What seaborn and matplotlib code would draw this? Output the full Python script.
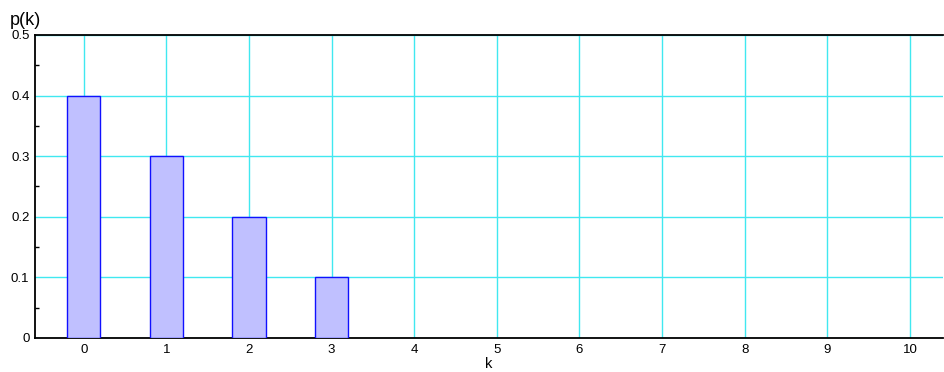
import numpy as np
import pandas as pd
import matplotlib
matplotlib.use("Agg")
import matplotlib.pyplot as plt
import seaborn as sns

# distribution values
k_vals = [0, 1, 2, 3]
p_vals = [0.4, 0.3, 0.2, 0.1]
x_ticks = list(range(0, 11))
y_ticks = [0, 0.1, 0.2, 0.3, 0.4, 0.5]
y_labels = ["0", "0.1", "0.2", "0.3", "0.4", "0.5"]

sns.set_style("white")
plt.rcParams['font.family'] = ['Liberation Sans', 'DejaVu Sans']
plt.rcParams['text.color'] = 'black'
plt.rcParams['xtick.color'] = 'black'
plt.rcParams['ytick.color'] = 'black'
plt.rcParams['axes.labelcolor'] = 'black'

df = pd.DataFrame({'k': k_vals, 'p': p_vals})

fig = plt.figure(figsize=(9.44, 3.72), dpi=100)
ax = fig.add_axes([35 / 944, 1 - 338 / 372, (943 - 35) / 944, (338 - 35) / 372])

sns.barplot(data=df, x='k', y='p', native_scale=True, width=0.4,
            color='#c0c0ff', saturation=1, edgecolor='#1010ff', linewidth=1,
            ax=ax, zorder=3)

ax.set_xlim(-0.59, 10.4)
ax.set_ylim(0, 0.5)
ax.set_xticks(x_ticks)
ax.set_xticklabels([str(t) for t in x_ticks], fontsize=9.5)
ax.set_yticks(y_ticks)
ax.set_yticklabels(y_labels, fontsize=9.5)
ax.set_yticks([0.05, 0.15, 0.25, 0.35, 0.45], minor=True)
ax.tick_params(axis='both', which='major', length=0, pad=4)
ax.tick_params(axis='y', which='minor', direction='in', length=3, width=1, color='black', left=True)

ax.grid(True, which='major', color='#40e8f0', linewidth=1)
ax.set_axisbelow(True)

for side in ['left', 'bottom', 'top']:
    ax.spines[side].set_color('black')
    ax.spines[side].set_linewidth(1.3)
    ax.spines[side].set_visible(True)
ax.spines['right'].set_visible(False)

ax.set_xlabel('k', fontsize=10.5, labelpad=1)
ax.set_ylabel('')
fig.text(10 / 944, 1 - 25 / 372, 'p(k)', fontsize=13, ha='left', va='baseline')

fig.savefig('out.png', dpi=100)
